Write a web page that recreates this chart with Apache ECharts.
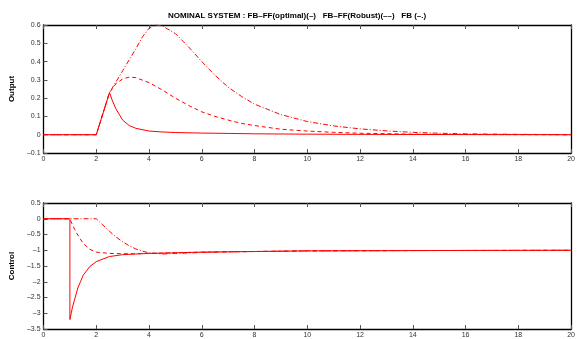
<!DOCTYPE html>
<html>
<head>
<meta charset="utf-8">
<script src="https://cdn.jsdelivr.net/npm/echarts@6/dist/echarts.min.js"></script>
<style>
  html, body { margin: 0; padding: 0; background: #fff; }
  #chart { width: 578px; height: 339px; }
</style>
</head>
<body>
<div id="chart"></div>
<script>
// Output panel
const outOptT = [0, 2, 2.5, 2.6, 2.75, 3, 3.25, 3.5, 4, 4.5, 5, 6, 7, 8, 10, 12, 15, 20];
const outOptV = [0, 0, 0.23, 0.19, 0.14, 0.08, 0.05, 0.035, 0.02, 0.015, 0.012, 0.009, 0.007, 0.005, 0.003, 0.002, 0.001, 0];

const outRobT = [0, 2, 2.5, 2.75, 3, 3.25, 3.5, 4, 4.5, 5, 5.5, 6, 6.5, 7, 7.5, 8, 9, 10, 11, 12, 14, 16, 20];
const outRobV = [0, 0, 0.23, 0.28, 0.305, 0.315, 0.312, 0.285, 0.245, 0.2, 0.16, 0.125, 0.1, 0.08, 0.062, 0.05, 0.03, 0.02, 0.013, 0.008, 0.003, 0.001, 0];

const outFbT = [0, 2, 2.5, 2.75, 3, 3.25, 3.5, 3.75, 4, 4.25, 4.5, 5, 5.5, 6, 6.5, 7, 7.5, 8, 9, 10, 11, 12, 13, 14, 15, 16, 18, 20];
const outFbV = [0, 0, 0.23, 0.29, 0.35, 0.41, 0.47, 0.535, 0.582, 0.6, 0.595, 0.553, 0.48, 0.4, 0.325, 0.26, 0.21, 0.167, 0.11, 0.072, 0.048, 0.032, 0.021, 0.013, 0.008, 0.005, 0.002, 0];

// Control panel
const ctlOptT = [0, 1, 1, 1.05, 1.1, 1.2, 1.3, 1.4, 1.5, 1.75, 2, 2.5, 3, 3.5, 4, 5, 6, 8, 10, 14, 20];
const ctlOptV = [0, 0, -3.2, -3.0, -2.8, -2.5, -2.2, -2.0, -1.8, -1.52, -1.36, -1.2, -1.14, -1.12, -1.1, -1.08, -1.06, -1.04, -1.02, -1.01, -1.0];

const ctlRobT = [0, 1, 1.1, 1.25, 1.5, 1.75, 2, 2.5, 3, 3.5, 4, 5, 6, 8, 10, 14, 20];
const ctlRobV = [0, 0, -0.2, -0.45, -0.78, -0.97, -1.06, -1.1, -1.11, -1.11, -1.1, -1.08, -1.06, -1.04, -1.02, -1.01, -1.0];

const ctlFbT = [0, 2, 2.25, 2.5, 2.75, 3, 3.25, 3.5, 3.75, 4, 4.5, 5, 6, 7, 8, 10, 14, 20];
const ctlFbV = [0, 0, -0.2, -0.4, -0.58, -0.73, -0.86, -0.96, -1.03, -1.08, -1.12, -1.1, -1.07, -1.05, -1.04, -1.02, -1.01, -1.0];

const titleText = "NOMINAL SYSTEM : FB\u2013FF(optimal)(\u2013)   FB\u2013FF(Robust)(\u2013\u2013)   FB (\u2013.)";

const zip = (t, v) => t.map((x, i) => [x, v[i]]);
const minus = (v) => String(v).replace("-", "\u2013");

const chart = echarts.init(document.getElementById("chart"));

const labelStyle = { color: "#333", fontSize: 7, fontFamily: "Liberation Sans" };
const lineBlack = { onZero: false, lineStyle: { color: "#000", width: 1.3 } };

function bottomX(grid) {
  return {
    type: "value", gridIndex: grid, min: 0, max: 20, interval: 2,
    axisLine: lineBlack,
    axisTick: { inside: true, length: 4, lineStyle: { color: "#555" } },
    axisLabel: Object.assign({ margin: 3 }, labelStyle),
    splitLine: { show: false },
  };
}
function topX(grid) {
  return {
    type: "value", gridIndex: grid, position: "top", min: 0, max: 20, interval: 2,
    axisLine: lineBlack,
    axisTick: { inside: true, length: 4, lineStyle: { color: "#555" } },
    axisLabel: { show: false },
    splitLine: { show: false },
  };
}
function leftY(grid, min, max, interval, name) {
  return {
    type: "value", gridIndex: grid, min: min, max: max, interval: interval,
    name: name, nameLocation: "middle", nameRotate: 90, nameGap: 12,
    nameTextStyle: { color: "#000", fontSize: 8, fontWeight: "bold", fontFamily: "Liberation Sans" },
    axisLine: lineBlack,
    axisTick: { inside: true, length: 4, lineStyle: { color: "#555" } },
    axisLabel: Object.assign({ margin: 3, formatter: minus }, labelStyle),
    splitLine: { show: false },
  };
}
function rightY(grid, min, max) {
  return {
    type: "value", gridIndex: grid, position: "right", min: min, max: max,
    axisLine: lineBlack, axisTick: { show: false }, axisLabel: { show: false },
    splitLine: { show: false },
  };
}
function line(name, data, x, y, type) {
  return {
    name: name, type: "line", data: data, xAxisIndex: x, yAxisIndex: y,
    showSymbol: false, symbol: "none", smooth: false, animation: false,
    lineStyle: { color: "#ff0000", width: 1, type: type },
  };
}

const dashed = [4, 3];
const dashDot = [5, 2, 1, 2];

chart.setOption({
  animation: false,
  title: {
    text: titleText, left: 163, top: 7,
    textStyle: { fontSize: 8, fontWeight: "bold", color: "#000", fontFamily: "Liberation Sans" },
  },
  grid: [
    { left: 38, right: 5, top: 25, height: 128 },
    { left: 38, right: 5, top: 203, height: 128 },
  ],
  xAxis: [bottomX(0), topX(0), bottomX(1), topX(1)],
  yAxis: [
    leftY(0, -0.1, 0.6, 0.1, "Output"), rightY(0, -0.1, 0.6),
    leftY(1, -3.5, 0.5, 0.5, "Control"), rightY(1, -3.5, 0.5),
  ],
  series: [
    line("FB-FF(optimal)", zip(outOptT, outOptV), 0, 0, "solid"),
    line("FB-FF(Robust)", zip(outRobT, outRobV), 0, 0, dashed),
    line("FB", zip(outFbT, outFbV), 0, 0, dashDot),
    line("FB-FF(optimal) u", zip(ctlOptT, ctlOptV), 2, 2, "solid"),
    line("FB-FF(Robust) u", zip(ctlRobT, ctlRobV), 2, 2, dashed),
    line("FB u", zip(ctlFbT, ctlFbV), 2, 2, dashDot),
  ],
});
</script>
</body>
</html>
